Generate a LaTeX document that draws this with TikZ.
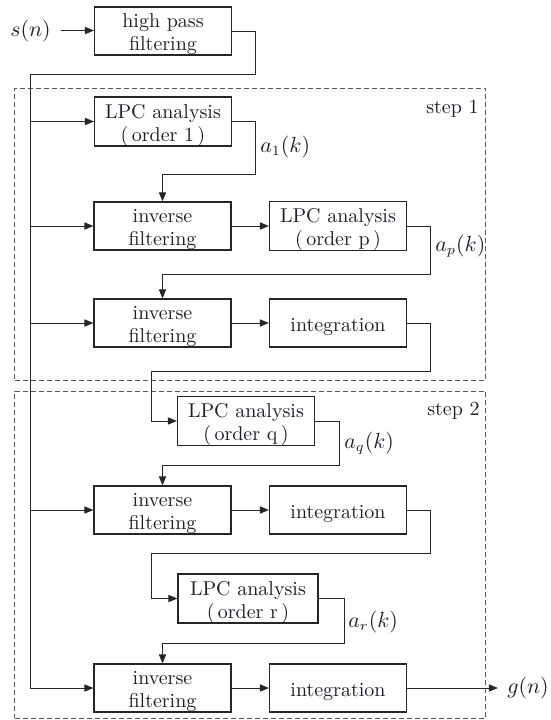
\documentclass[tikz,border=0pt]{standalone}
\usetikzlibrary{arrows.meta}
\definecolor{ink}{HTML}{1E1E28}
\definecolor{edge}{HTML}{262626}
\definecolor{frame}{HTML}{5A5A5A}
% raises the first line so box texts sit slightly low, as in a printed figure
\newcommand{\lift}{\rule{0pt}{10.5pt}}
\begin{document}
\begin{tikzpicture}[x=0.5pt,y=-0.5pt,
  font=\fontsize{10}{11.5}\selectfont,
  box/.style={draw=edge, line width=0.6pt, minimum width=68.5pt, minimum height=24pt,
    inner sep=0pt, align=center, text=ink},
  wire/.style={draw=edge, line width=0.5pt},
  flow/.style={wire, -{Triangle[length=4.5pt,width=3.6pt]}},
  stepframe/.style={draw=frame, line width=0.5pt, dash pattern=on 2.5pt off 1.5pt, inner sep=0pt},
  steplabel/.style={anchor=base east, inner sep=0pt, text=ink},
  sig/.style={text=ink, font=\fontsize{10.5}{12}\selectfont},
  coef/.style={sig, anchor=base west, inner sep=0pt},
]
\useasboundingbox (0,0) rectangle (551,720);

% the two dashed stages
\node[stepframe, minimum width=235.5pt, minimum height=146pt] (step1) at (250.5,234) {};
\node[stepframe, minimum width=235.5pt, minimum height=163.5pt] (step2) at (250.5,554.5) {};
\node[steplabel] (lab1) at (479,113) {step 1};
\node[steplabel] (lab2) at (480,415) {step 2};

% processing blocks
\node[box] (hp)   at (163,31)    {\lift high pass\\filtering};
\node[box] (lpc1) at (163,121.5) {\lift LPC analysis\\(\,order 1\,)};
\node[box] (inv1) at (162.5,226) {\lift inverse\\filtering};
\node[box] (lpcp) at (338,226)   {\lift LPC analysis\\(\,order p\,)};
\node[box] (inv2) at (162.5,323) {\lift inverse\\filtering};
\node[box] (int1) at (338,323)   {\lift integration};
\node[box] (lpcq) at (246,421)   {\lift LPC analysis\\(\,order q\,)};
\node[box] (inv3) at (162.5,510) {\lift inverse\\filtering};
\node[box] (int2) at (338,510)   {\lift integration};
\node[box, minimum width=70pt] (lpcr) at (248,598.5) {\lift LPC analysis\\(\,order r\,)};
\node[box] (inv4) at (162.5,688) {\lift inverse\\filtering};
\node[box] (int3) at (338,688)   {\lift integration};

% input and output signals
\node[sig, anchor=base, inner sep=5pt] (sn) at (30.5,36) {$s(n)$};
\node[sig, inner sep=4.5pt] (gn) at (528,688) {$g(n)$};
\draw[flow] (sn.east) -- (sn.east -| hp.west);
\draw[flow] (int3.east) -- (gn.west);

% the filtered signal trunk feeding every stage
\coordinate (t1) at (256,74);
\coordinate (t2) at (31,74);
\draw[wire] (hp.east) -| (t1) -- (t2);
\draw[flow] (t2) |- (inv4.west);
\foreach \b in {lpc1,inv1,inv2,inv3}
  \draw[flow] (t2 |- \b.west) -- (\b.west);

% step 1
\coordinate (k1) at (256,174);
\draw[flow] (lpc1.east) -| (k1) -| (inv1.north);
\node[coef] (a1) at (260,152) {$a_1(k)$};
\draw[flow] (inv1.east) -- (lpcp.west);
\coordinate (k2) at (431,274);
\draw[flow] (lpcp.east) -| (k2) -| (inv2.north);
\node[coef] (ap) at (435,251) {$a_p(k)$};
\draw[flow] (inv2.east) -- (int1.west);

% step 2
\coordinate (k3) at (431,371);
\coordinate (k4) at (152,371);
\draw[flow] (int1.east) -| (k3) -- (k4) |- (lpcq.west);
\coordinate (k5) at (340,465);
\draw[flow] (lpcq.east) -| (k5) -| (inv3.north);
\node[coef] (aq) at (344,448) {$a_q(k)$};
\draw[flow] (inv3.east) -- (int2.west);
\coordinate (k6) at (431,553);
\coordinate (k7) at (152,553);
\draw[flow] (int2.east) -| (k6) -- (k7) |- (lpcr.west);
\coordinate (k8) at (345,643);
\draw[flow] (lpcr.east) -| (k8) -| (inv4.north);
\node[coef] (ar) at (348,627) {$a_r(k)$};
\draw[flow] (inv4.east) -- (int3.west);
\end{tikzpicture}
\end{document}
